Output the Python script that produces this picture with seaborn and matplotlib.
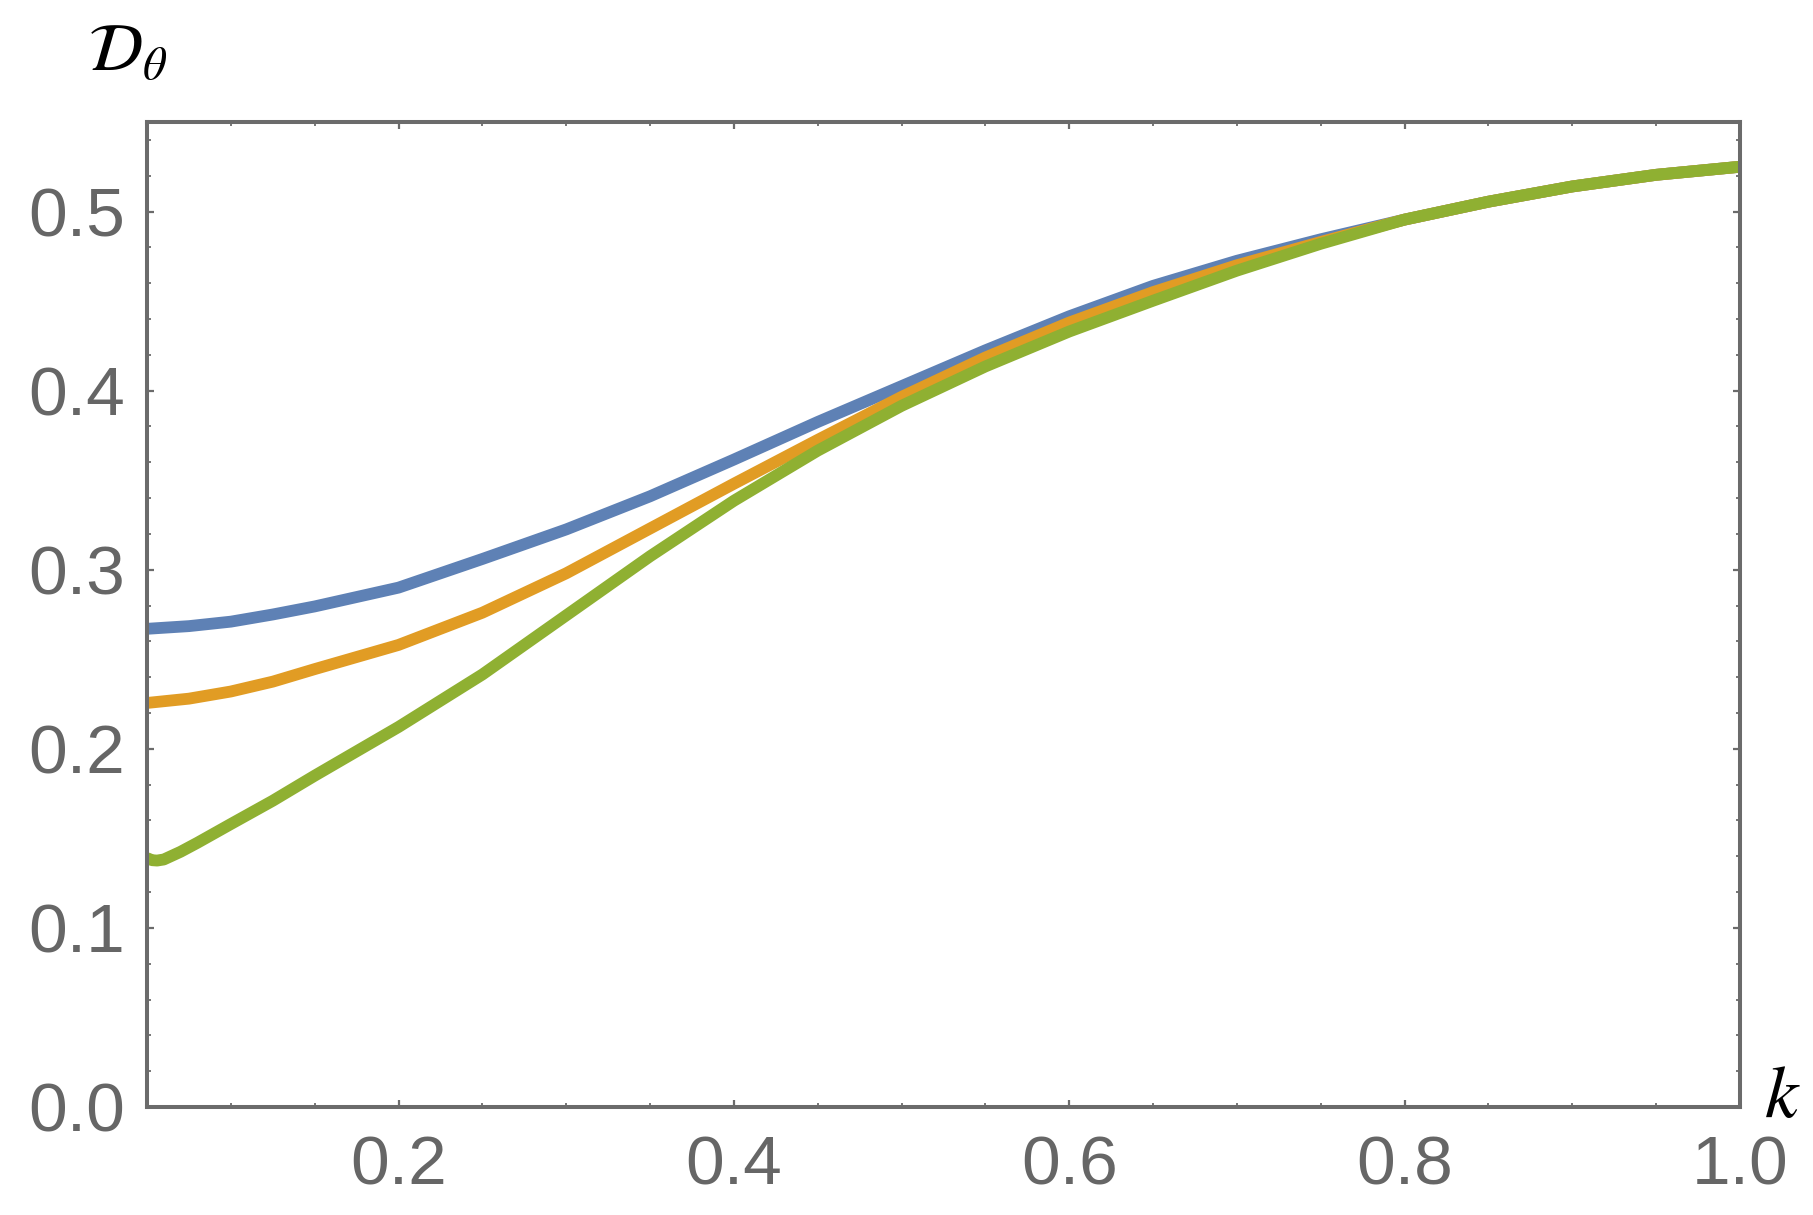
import pandas as pd
import numpy as np
import matplotlib
matplotlib.use("Agg")
import matplotlib.pyplot as plt
from matplotlib.ticker import MultipleLocator
import seaborn as sb

# values
k_blue = [0.05, 0.075, 0.1, 0.125, 0.15, 0.2, 0.25, 0.3, 0.35, 0.4, 0.45, 0.5, 0.55, 0.6,
          0.65, 0.7, 0.75, 0.8, 0.85, 0.9, 0.95, 1.0]
d_blue = [0.267, 0.2685, 0.271, 0.275, 0.2795, 0.290, 0.306, 0.3225, 0.341, 0.3615, 0.3825,
          0.4025, 0.4225, 0.4415, 0.4585, 0.4725, 0.4845, 0.4955, 0.5055, 0.514, 0.5205, 0.525]

k_orange = [0.05, 0.075, 0.1, 0.125, 0.15, 0.2, 0.25, 0.3, 0.35, 0.4, 0.45, 0.5, 0.55, 0.6,
            0.65, 0.7, 0.75, 0.8, 0.85, 0.9, 0.95, 1.0]
d_orange = [0.2256, 0.228, 0.232, 0.2375, 0.2445, 0.258, 0.276, 0.298, 0.323, 0.348, 0.3725,
            0.3965, 0.4185, 0.438, 0.455, 0.470, 0.483, 0.4955, 0.5055, 0.514, 0.5205, 0.525]

k_green = [0.05, 0.053, 0.056, 0.06, 0.07, 0.08, 0.1, 0.125, 0.15, 0.2, 0.25, 0.3, 0.35,
           0.4, 0.45, 0.5, 0.55, 0.6, 0.65, 0.7, 0.75, 0.8, 0.85, 0.9, 0.95, 1.0]
d_green = [0.139, 0.1378, 0.1376, 0.1382, 0.1425, 0.1475, 0.158, 0.171, 0.185, 0.2122, 0.2415,
           0.2745, 0.3075, 0.3385, 0.3665, 0.3915, 0.4135, 0.433, 0.4502, 0.467, 0.482, 0.4955,
           0.5055, 0.514, 0.5205, 0.525]

df = pd.concat([
    pd.DataFrame({"k": k_blue, "D": d_blue, "curve": "a"}),
    pd.DataFrame({"k": k_orange, "D": d_orange, "curve": "b"}),
    pd.DataFrame({"k": k_green, "D": d_green, "curve": "c"}),
])

sb.set_style("ticks")
plt.rcParams["font.family"] = ["Liberation Sans", "DejaVu Sans"]
plt.rcParams["mathtext.fontset"] = "stix"
plt.rcParams["lines.solid_joinstyle"] = "round"
plt.rcParams["lines.solid_capstyle"] = "butt"

grey = "#6b6b6b"
fig = plt.figure(figsize=(18.13, 12.15), dpi=100)
ax = fig.add_axes([0.0811, 0.0889, 0.9597 - 0.0811, 0.8996 - 0.0889])

sb.lineplot(data=df, x="k", y="D", hue="curve", sort=False, estimator=None,
            palette=["#5E81B5", "#E19C24", "#8FB032"], linewidth=8.5,
            legend=False, ax=ax)

ax.set_xlim(0.05, 1.0)
ax.set_ylim(0.0, 0.55)
ax.xaxis.set_minor_locator(MultipleLocator(0.05))
ax.yaxis.set_minor_locator(MultipleLocator(0.02))
ax.set_xticks([0.2, 0.4, 0.6, 0.8, 1.0])
ax.set_xticklabels(["0.2", "0.4", "0.6", "0.8", "1.0"])
ax.set_yticks([0.0, 0.1, 0.2, 0.3, 0.4, 0.5])
ax.set_yticklabels(["0.0", "0.1", "0.2", "0.3", "0.4", "0.5"])

for s in ax.spines.values():
    s.set_color(grey)
    s.set_linewidth(2.9)

ax.tick_params(which="both", direction="in", top=True, right=True, color=grey,
               labelcolor="#666666", labelsize=50)
ax.tick_params(which="major", length=5, width=1.6)
ax.tick_params(which="minor", length=3, width=1.3)
ax.tick_params(axis="x", pad=20)
ax.tick_params(axis="y", pad=16)
ax.set_xlabel("")
ax.set_ylabel("")

fig.text(128 / 1813, 1 - 54 / 1215, r"$\mathcal{D}_\theta$", fontsize=48,
         ha="center", va="center", color="black")
fig.text(1782 / 1813, 1 - 1097 / 1215, r"$k$", fontsize=54,
         ha="center", va="center", color="black")

plt.savefig("out.png", dpi=100)
